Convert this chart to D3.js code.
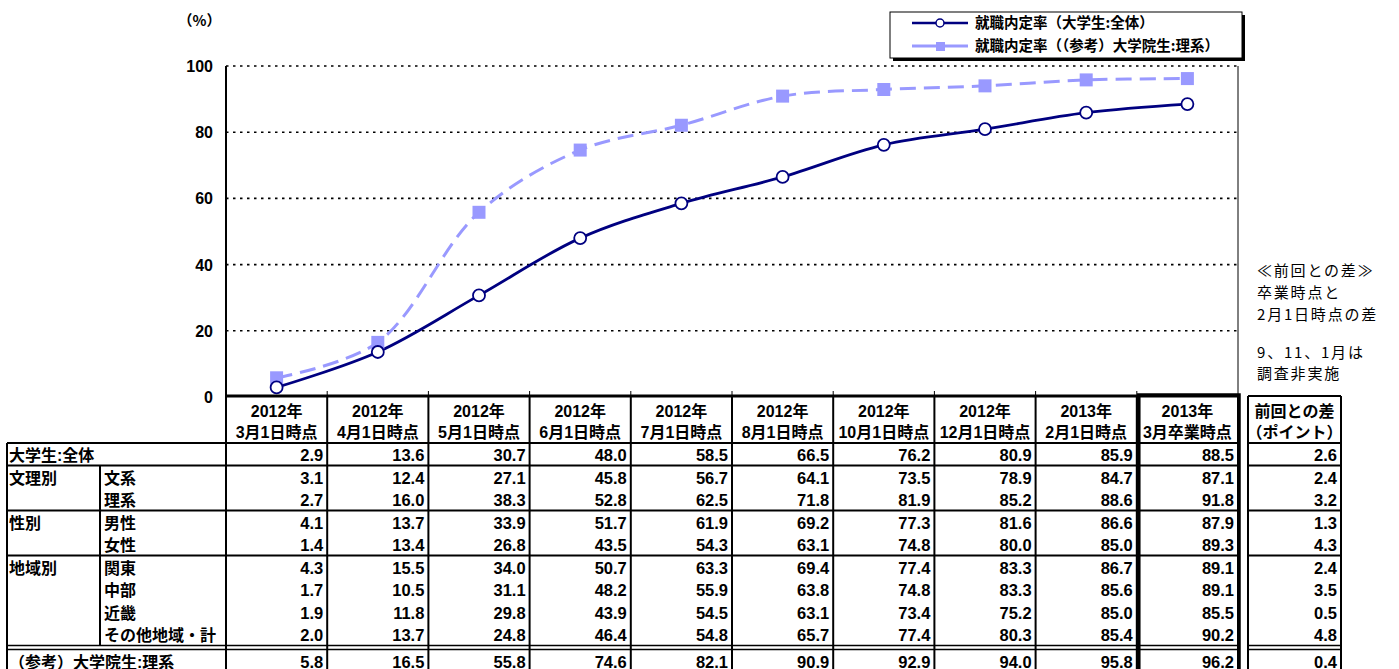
<!DOCTYPE html>
<html>
<head>
<meta charset="utf-8">
<script src="https://cdn.jsdelivr.net/npm/d3@7"></script>
<style>
  body { margin: 0; background: #fff; }
  svg { font-family: "Liberation Sans", "Noto Sans CJK JP", sans-serif; }
  .b { font-weight: bold; }
</style>
</head>
<body>
<svg width="1399" height="669"></svg>
<script>
const YEARS = ["2012年", "2012年", "2012年", "2012年", "2012年", "2012年", "2012年", "2012年", "2013年", "2013年"];
const DATES = ["3月1日時点", "4月1日時点", "5月1日時点", "6月1日時点", "7月1日時点", "8月1日時点",
               "10月1日時点", "12月1日時点", "2月1日時点", "3月卒業時点"];
const Y_TICKS = [0, 20, 40, 60, 80, 100];

const GROUPS = ["大学生:全体", "文理別", "", "性別", "", "地域別", "", "", "", "（参考）大学院生:理系"];
const SUBS = ["", "文系", "理系", "男性", "女性", "関東", "中部", "近畿", "その他地域・計", ""];

const ALL = [2.9, 13.6, 30.7, 48.0, 58.5, 66.5, 76.2, 80.9, 85.9, 88.5];
const BUNKEI = [3.1, 12.4, 27.1, 45.8, 56.7, 64.1, 73.5, 78.9, 84.7, 87.1];
const RIKEI = [2.7, 16.0, 38.3, 52.8, 62.5, 71.8, 81.9, 85.2, 88.6, 91.8];
const MALE = [4.1, 13.7, 33.9, 51.7, 61.9, 69.2, 77.3, 81.6, 86.6, 87.9];
const FEMALE = [1.4, 13.4, 26.8, 43.5, 54.3, 63.1, 74.8, 80.0, 85.0, 89.3];
const KANTO = [4.3, 15.5, 34.0, 50.7, 63.3, 69.4, 77.4, 83.3, 86.7, 89.1];
const CHUBU = [1.7, 10.5, 31.1, 48.2, 55.9, 63.8, 74.8, 83.3, 85.6, 89.1];
const KINKI = [1.9, 11.8, 29.8, 43.9, 54.5, 63.1, 73.4, 75.2, 85.0, 85.5];
const OTHER = [2.0, 13.7, 24.8, 46.4, 54.8, 65.7, 77.4, 80.3, 85.4, 90.2];
const GRAD = [5.8, 16.5, 55.8, 74.6, 82.1, 90.9, 92.9, 94.0, 95.8, 96.2];
const DIFF = [2.6, 2.4, 3.2, 1.3, 4.3, 2.4, 3.5, 0.5, 4.8, 0.4];

const ROWS = [ALL, BUNKEI, RIKEI, MALE, FEMALE, KANTO, CHUBU, KINKI, OTHER, GRAD];

const LEGEND = ["就職内定率（大学生:全体）", "就職内定率（（参考）大学院生:理系）"];
const NOTE = ["≪前回との差≫", "卒業時点と", "2月1日時点の差", "9、11、1月は", "調査非実施"];

const NAVY = "#000080", LILAC = "#9999ff";
const svg = d3.select("svg");

const pL = 226, pR = 1238, pT = 66, pB = 397;
const x = d3.scaleBand().domain(d3.range(DATES.length)).range([pL, pR]);
const y = d3.scaleLinear().domain([0, 100]).range([pB, pT]);
const cx = i => x(i) + x.bandwidth() / 2;

// gridlines
svg.append("g").selectAll("line").data(Y_TICKS.filter(d => d > 0)).join("line")
  .attr("x1", pL).attr("x2", pR).attr("y1", d => y(d)).attr("y2", d => y(d))
  .attr("stroke", "#000").attr("stroke-width", 1.6).attr("stroke-dasharray", "2.5,4.5");

// plot border
svg.append("line").attr("x1", pL).attr("x2", pL).attr("y1", pT).attr("y2", pB)
  .attr("stroke", "#000").attr("stroke-width", 2);
svg.append("line").attr("x1", pR).attr("x2", pR).attr("y1", pT).attr("y2", pB)
  .attr("stroke", "#000").attr("stroke-width", 1);
// ticks above table
svg.append("g").selectAll("line").data(d3.range(1, DATES.length)).join("line")
  .attr("x1", d => x(d)).attr("x2", d => x(d)).attr("y1", pB - 6).attr("y2", pB)
  .attr("stroke", "#000").attr("stroke-width", 1);

// y labels
svg.append("g").selectAll("text").data(Y_TICKS).join("text")
  .attr("class", "b").attr("x", 213).attr("y", d => y(d) + 6).attr("text-anchor", "end")
  .attr("font-size", 16).text(d => d);
svg.append("text").attr("class", "b").attr("x", 178).attr("y", 26).attr("font-size", 14.5)
  .attr("font-family", "Noto Sans CJK JP").text("（%）");

// series
const line = d3.line().x((d, i) => cx(i)).y(d => y(d)).curve(d3.curveCatmullRom.alpha(0.5));
svg.append("path").attr("d", line(GRAD)).attr("fill", "none").attr("stroke", LILAC)
  .attr("stroke-width", 3).attr("stroke-dasharray", "16,8");
svg.append("path").attr("d", line(ALL)).attr("fill", "none").attr("stroke", NAVY)
  .attr("stroke-width", 2.8);
svg.append("g").selectAll("rect").data(GRAD).join("rect")
  .attr("x", (d, i) => cx(i) - 6.5).attr("y", d => y(d) - 6.5).attr("width", 13).attr("height", 13)
  .attr("fill", LILAC);
svg.append("g").selectAll("circle").data(ALL).join("circle")
  .attr("cx", (d, i) => cx(i)).attr("cy", d => y(d)).attr("r", 6)
  .attr("fill", "#fff").attr("stroke", NAVY).attr("stroke-width", 1.8);

// legend
const lg = svg.append("g");
lg.append("rect").attr("x", 893).attr("y", 15).attr("width", 352).attr("height", 46).attr("fill", "#000");
lg.append("rect").attr("x", 890).attr("y", 12).attr("width", 352).attr("height", 46)
  .attr("fill", "#fff").attr("stroke", "#000").attr("stroke-width", 1);
lg.append("line").attr("x1", 912).attr("x2", 968).attr("y1", 23).attr("y2", 23)
  .attr("stroke", NAVY).attr("stroke-width", 2.5);
lg.append("circle").attr("cx", 940).attr("cy", 23).attr("r", 4)
  .attr("fill", "#fff").attr("stroke", NAVY).attr("stroke-width", 1.5);
lg.append("line").attr("x1", 912).attr("x2", 968).attr("y1", 46).attr("y2", 46)
  .attr("stroke", LILAC).attr("stroke-width", 3);
lg.append("rect").attr("x", 936).attr("y", 42).attr("width", 9).attr("height", 9).attr("fill", LILAC);
lg.selectAll("text").data(LEGEND).join("text")
  .attr("class", "b").attr("x", 975).attr("y", (d, i) => 28 + i * 23).attr("font-size", 14.5)
  .attr("font-family", "Noto Sans CJK JP").text(d => d);

// note
svg.append("g").selectAll("text").data(NOTE).join("text")
  .attr("x", 1257).attr("y", (d, i) => [276, 298, 320, 358, 379][i]).attr("font-size", 15)
  .attr("letter-spacing", 1.8).attr("font-family", "Noto Sans CJK JP").text(d => d);

// table
const tTop = 396, hBot = 443, rh = 22.5;
const rowTop = i => i < 9 ? hBot + i * rh : hBot + 9 * rh + 4;
const tBot = rowTop(9) + rh;
const dL = 1248, dR = 1341;
const tg = svg.append("g").attr("font-size", 16).attr("class", "b");

// header text
tg.selectAll(".hy").data(YEARS).join("text").attr("class", "hy b")
  .attr("x", (d, i) => cx(i)).attr("y", 417).attr("text-anchor", "middle").text(d => d);
tg.selectAll(".hd").data(DATES).join("text").attr("class", "hd b")
  .attr("x", (d, i) => cx(i)).attr("y", 438).attr("text-anchor", "middle").text(d => d);
tg.append("text").attr("x", (dL + dR) / 2).attr("y", 417).attr("text-anchor", "middle").text("前回との差");
tg.append("text").attr("x", (dL + dR) / 2).attr("y", 438).attr("text-anchor", "middle").text("（ポイント）");

// values
ROWS.forEach((row, r) => {
  tg.append("g").selectAll("text").data(row).join("text")
    .attr("x", (d, i) => x(i) + x.bandwidth() - 4).attr("y", rowTop(r) + 18)
    .attr("font-size", 16.5).attr("text-anchor", "end").text(d => d.toFixed(1));
});
tg.append("g").selectAll("text").data(DIFF).join("text")
  .attr("x", dR - 4).attr("y", (d, r) => rowTop(r) + 18).attr("text-anchor", "end")
  .attr("font-size", 16.5).text(d => d.toFixed(1));
tg.append("g").selectAll("text").data(GROUPS).join("text")
  .attr("x", 9).attr("y", (d, r) => rowTop(r) + 18).text(d => d);
tg.append("g").selectAll("text").data(SUBS).join("text")
  .attr("x", 104).attr("y", (d, r) => rowTop(r) + 18).text(d => d);

// grid lines of table
const ln = (x1, y1, x2, y2, w) => svg.append("line").attr("x1", x1).attr("y1", y1)
  .attr("x2", x2).attr("y2", y2).attr("stroke", "#000").attr("stroke-width", w);
ln(pL, tTop, pR, tTop, 3);
ln(dL, tTop, dR, tTop, 2);
ln(7, hBot, pR, hBot, 2);
ln(dL, hBot, dR, hBot, 2);
[1, 3, 5].forEach(r => { ln(7, rowTop(r), pR, rowTop(r), 2); ln(dL, rowTop(r), dR, rowTop(r), 2); });
ln(7, rowTop(9) - 4, pR, rowTop(9) - 4, 1.5); ln(dL, rowTop(9) - 4, dR, rowTop(9) - 4, 1.5);
ln(7, rowTop(9), pR, rowTop(9), 1.5); ln(dL, rowTop(9), dR, rowTop(9), 1.5);
d3.range(DATES.length + 1).forEach(i => {
  const xx = i < DATES.length ? x(i) : pR;
  ln(xx, tTop, xx, tBot, 2);
});
ln(7, hBot, 7, tBot, 2);
ln(100, rowTop(1), 100, rowTop(9) - 4, 2);
ln(dL, tTop, dL, tBot, 2);
ln(dR, tTop, dR, tBot, 2);
// highlighted last column
svg.append("rect").attr("x", x(9) + 2).attr("y", tTop - 1).attr("width", x.bandwidth() - 1)
  .attr("height", tBot - tTop + 2).attr("fill", "none").attr("stroke", "#000").attr("stroke-width", 3.5);
</script>
</body>
</html>
